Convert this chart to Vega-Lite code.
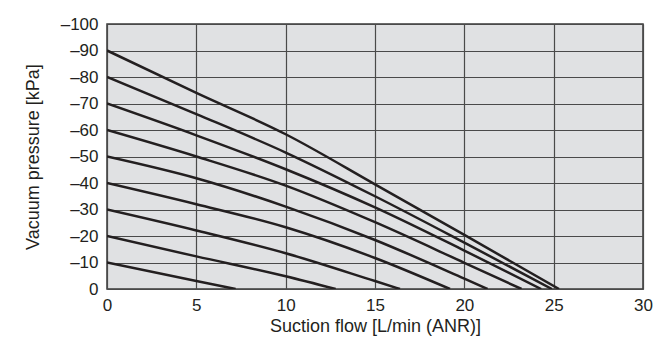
{
  "$schema": "https://vega.github.io/schema/vega-lite/v6.json",
  "width": 536,
  "height": 265,
  "autosize": {"type": "none"},
  "padding": {"left": 107, "top": 24, "right": 18, "bottom": 59},
  "background": "#ffffff",
  "config": {
    "view": {"fill": "#e0e1e3", "stroke": "#3a3a3a", "strokeWidth": 1.5},
    "font": "Liberation Sans",
    "axis": {
      "domain": false,
      "ticks": false,
      "grid": true,
      "gridColor": "#4a4a4a",
      "gridWidth": 1.2,
      "gridOpacity": 1,
      "labelFont": "Liberation Sans",
      "labelFontSize": 17,
      "labelColor": "#231f20",
      "titleFont": "Liberation Sans",
      "titleFontSize": 18,
      "titleFontWeight": "normal",
      "titleColor": "#231f20"
    }
  },
  "data": {
    "values": [
      {"curve": "90", "flow": 0, "pressure": -90},
      {"curve": "90", "flow": 5, "pressure": -74},
      {"curve": "90", "flow": 10, "pressure": -58.4},
      {"curve": "90", "flow": 15, "pressure": -39.5},
      {"curve": "90", "flow": 20, "pressure": -20.4},
      {"curve": "90", "flow": 25.3, "pressure": 0},
      {"curve": "80", "flow": 0, "pressure": -80},
      {"curve": "80", "flow": 5, "pressure": -66},
      {"curve": "80", "flow": 10, "pressure": -51.5},
      {"curve": "80", "flow": 15, "pressure": -35},
      {"curve": "80", "flow": 20, "pressure": -17.5},
      {"curve": "80", "flow": 24.9, "pressure": 0},
      {"curve": "70", "flow": 0, "pressure": -70},
      {"curve": "70", "flow": 5, "pressure": -58},
      {"curve": "70", "flow": 10, "pressure": -45.2},
      {"curve": "70", "flow": 15, "pressure": -30.8},
      {"curve": "70", "flow": 20, "pressure": -14.5},
      {"curve": "70", "flow": 24.3, "pressure": 0},
      {"curve": "60", "flow": 0, "pressure": -60},
      {"curve": "60", "flow": 5, "pressure": -50},
      {"curve": "60", "flow": 10, "pressure": -39},
      {"curve": "60", "flow": 15, "pressure": -25.2},
      {"curve": "60", "flow": 20, "pressure": -9.9},
      {"curve": "60", "flow": 23.2, "pressure": 0},
      {"curve": "50", "flow": 0, "pressure": -50},
      {"curve": "50", "flow": 5, "pressure": -41.8},
      {"curve": "50", "flow": 10, "pressure": -31.1},
      {"curve": "50", "flow": 15, "pressure": -18.5},
      {"curve": "50", "flow": 20, "pressure": -3.9},
      {"curve": "50", "flow": 21.3, "pressure": 0},
      {"curve": "40", "flow": 0, "pressure": -40},
      {"curve": "40", "flow": 5, "pressure": -32},
      {"curve": "40", "flow": 10, "pressure": -23.3},
      {"curve": "40", "flow": 15, "pressure": -11.7},
      {"curve": "40", "flow": 19.2, "pressure": 0},
      {"curve": "30", "flow": 0, "pressure": -30},
      {"curve": "30", "flow": 5, "pressure": -22.1},
      {"curve": "30", "flow": 10, "pressure": -13.5},
      {"curve": "30", "flow": 15, "pressure": -3},
      {"curve": "30", "flow": 16.4, "pressure": 0},
      {"curve": "20", "flow": 0, "pressure": -20},
      {"curve": "20", "flow": 5, "pressure": -12.3},
      {"curve": "20", "flow": 10, "pressure": -4.8},
      {"curve": "20", "flow": 12.8, "pressure": 0},
      {"curve": "10", "flow": 0, "pressure": -10},
      {"curve": "10", "flow": 5, "pressure": -3},
      {"curve": "10", "flow": 7.2, "pressure": 0}
    ]
  },
  "mark": {"type": "line", "stroke": "#231f20", "strokeWidth": 2.5, "interpolate": "monotone", "clip": true},
  "encoding": {
    "x": {
      "field": "flow",
      "type": "quantitative",
      "scale": {"domain": [0, 30], "nice": false, "zero": false},
      "axis": {
        "values": [0, 5, 10, 15, 20, 25, 30],
        "title": "Suction flow [L/min (ANR)]",
        "labelPadding": 8,
        "labelFlush": false,
        "titleY": 37,
        "titleBaseline": "middle"
      }
    },
    "y": {
      "field": "pressure",
      "type": "quantitative",
      "scale": {"domain": [-100, 0], "reverse": true, "nice": false, "zero": false},
      "axis": {
        "values": [-100, -90, -80, -70, -60, -50, -40, -30, -20, -10, 0],
        "title": "Vacuum pressure [kPa]",
        "labelPadding": 9,
        "labelFlush": false,
        "labelExpr": "datum.value == 0 ? '0' : '\u2013' + abs(datum.value)",
        "titleX": -74,
        "titleBaseline": "middle"
      }
    },
    "detail": {"field": "curve", "type": "nominal"},
    "order": {"field": "flow", "type": "quantitative"}
  }
}
